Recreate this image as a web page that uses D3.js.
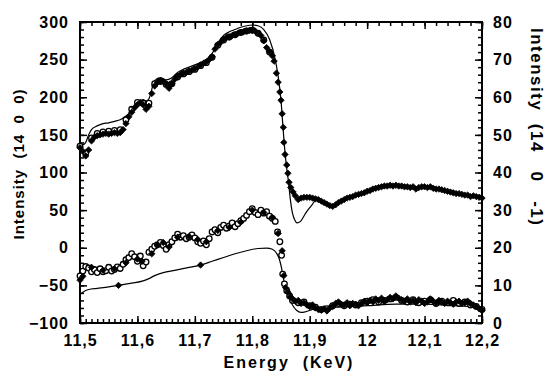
<!DOCTYPE html>
<html>
<head>
<meta charset="utf-8">
<script src="https://cdn.jsdelivr.net/npm/d3@7"></script>
<style>
  html, body { margin: 0; padding: 0; background: #fff; }
  svg { display: block; }
  text { font-family: "Liberation Sans", Arial, sans-serif; font-weight: bold; fill: #000; }
  .tick text { font-size: 16px; letter-spacing: 1px; }
  .tick line { stroke: #000; stroke-width: 1.5; }
</style>
</head>
<body>
<svg id="chart" width="548" height="372"></svg>
<script>
// x ticks (energy, keV) and their printed labels
const xTicks = [11.5, 11.6, 11.7, 11.8, 11.9, 12.0, 12.1, 12.2];
const xTickLabels = ['11,5', '11,6', '11,7', '11,8', '11,9', '12', '12,1', '12,2'];
const leftTicks = [-100, -50, 0, 50, 100, 150, 200, 250, 300];
const rightTicks = [0, 10, 20, 30, 40, 50, 60, 70, 80];

// Intensity (14 0 0), left axis: measured (filled diamonds)
const upperDiamonds = [
  [11.500,133],[11.505,128],[11.510,122],[11.515,130],[11.520,142],[11.525,147],[11.530,149],[11.535,150],
  [11.540,151],[11.545,152],[11.550,151],[11.555,152],[11.560,153],[11.565,152],[11.570,153],[11.575,157],
  [11.580,165],[11.585,174],[11.590,180],[11.595,186],[11.600,190],[11.605,193],[11.610,190],[11.615,184],
  [11.620,188],[11.625,205],[11.630,215],[11.635,220],[11.640,222],[11.645,221],[11.650,218],[11.655,212],
  [11.660,218],[11.665,224],[11.670,228],[11.675,230],[11.680,232],[11.685,233],[11.690,235],[11.695,236],
  [11.700,238],[11.705,240],[11.710,243],[11.715,245],[11.720,247],[11.725,250],[11.730,254],[11.735,264],
  [11.740,270],[11.745,273],[11.750,277],[11.755,279],[11.760,280],[11.765,282],[11.770,283],[11.775,285],
  [11.780,286],[11.785,287],[11.790,288],[11.795,289],[11.800,289],[11.805,288],[11.810,285],[11.815,282],
  [11.820,275],[11.825,266],[11.830,261],[11.835,255],[11.838,248],[11.842,232],[11.845,220],[11.848,207],
  [11.850,196],[11.852,178],[11.854,160],[11.855,140],[11.857,124],[11.860,110],[11.862,99],[11.864,87],
  [11.867,80],[11.871,74],[11.875,69],[11.880,64],[11.885,66],[11.890,67],[11.895,67],[11.900,67],
  [11.905,66],[11.910,65],[11.915,64],[11.920,62],[11.925,60],[11.930,58],[11.935,56],[11.940,55],
  [11.945,57],[11.950,60],[11.955,62],[11.960,64],[11.965,66],[11.970,67],[11.975,68],[11.980,70],
  [11.985,71],[11.990,72],[11.995,73],[12.000,75],[12.005,76],[12.010,78],[12.015,79],[12.020,80],
  [12.025,81],[12.030,82],[12.035,82],[12.040,83],[12.045,82],[12.050,83],[12.055,82],[12.060,82],
  [12.065,81],[12.070,81],[12.075,80],[12.080,81],[12.085,78],[12.090,80],[12.095,81],[12.100,81],
  [12.105,80],[12.110,81],[12.115,79],[12.120,78],[12.125,78],[12.130,77],[12.135,76],[12.140,75],
  [12.145,74],[12.150,73],[12.155,72],[12.160,72],[12.165,71],[12.170,70],[12.175,70],[12.180,68],
  [12.185,69],[12.190,68],[12.195,67],[12.200,66]
];
// Intensity (14 0 0): second measurement (open circles)
const upperCircles = [
  [11.50,135],[11.51,126],[11.52,146],[11.53,152],[11.54,154],[11.55,155],[11.56,156],[11.57,157],
  [11.58,170],[11.59,184],[11.60,193],[11.61,192],[11.62,192],[11.63,218],[11.64,221],[11.65,217],
  [11.66,218],[11.67,227],[11.68,231],[11.69,234],[11.70,237],[11.71,242],[11.72,246],[11.73,253],
  [11.74,269],[11.75,276],[11.76,280],[11.77,283],[11.78,286],[11.79,288],[11.80,289],[11.81,285],
  [11.82,276],[11.83,260]
];
// Intensity (14 0 0): calculated (thin line)
const upperFit = [
  [11.500,138],[11.505,137],[11.510,140],[11.515,150],[11.520,157],[11.530,162],[11.540,165],[11.550,166],
  [11.560,168],[11.570,170],[11.580,175],[11.590,182],[11.600,193],[11.610,197],[11.615,195],[11.620,198],
  [11.630,222],[11.640,226],[11.650,223],[11.660,226],[11.670,233],[11.680,237],[11.690,240],[11.700,243],
  [11.710,246],[11.720,250],[11.730,258],[11.740,272],[11.750,282],[11.760,287],[11.770,290],[11.780,293],
  [11.790,295],[11.800,296],[11.810,295],[11.820,290],[11.830,277],[11.840,250],[11.845,228],[11.850,196],
  [11.853,165],[11.856,135],[11.860,105],[11.863,88],[11.866,66],[11.870,46],[11.874,37],[11.878,33],
  [11.884,35],[11.893,46],[11.903,56],[11.913,65],[11.920,62],[11.930,58],[11.940,56],[11.950,60],
  [11.970,67],[12.000,75],[12.030,81],[12.050,82],[12.080,80],[12.110,80],[12.140,75],[12.170,70],
  [12.200,66]
];

// Intensity (14 0 -1), right axis: open circles
const lowerCircles = [
  [11.500,12.5],[11.505,13.8],[11.510,15.0],[11.515,14.6],[11.520,13.6],[11.525,14.2],[11.530,13.4],
  [11.535,14.4],[11.540,13.6],[11.545,13.9],[11.550,14.8],[11.555,13.8],[11.560,14.2],[11.565,14.9],
  [11.570,14.5],[11.575,15.6],[11.580,16.8],[11.585,17.4],[11.590,18.4],[11.595,17.6],[11.600,16.4],
  [11.605,17.8],[11.610,15.2],[11.615,16.2],[11.620,18.8],[11.625,19.6],[11.630,20.4],[11.635,20.8],
  [11.640,21.4],[11.645,20.6],[11.650,19.6],[11.655,20.8],[11.660,21.6],[11.665,22.6],[11.670,23.6],
  [11.675,22.8],[11.680,23.2],[11.685,22.4],[11.690,22.8],[11.695,23.4],[11.700,22.6],[11.705,21.6],
  [11.710,21.2],[11.715,21.8],[11.720,20.8],[11.725,22.4],[11.730,24.2],[11.735,24.8],[11.740,24.0],
  [11.745,25.4],[11.750,26.0],[11.755,25.2],[11.760,25.8],[11.765,26.6],[11.770,25.6],[11.775,26.4],
  [11.780,27.2],[11.785,27.8],[11.790,28.6],[11.795,29.6],[11.800,30.4],[11.805,29.4],[11.810,28.8],
  [11.815,30.0],[11.820,29.2],[11.825,29.6],[11.830,28.4],[11.835,27.8],[11.840,27.0],[11.844,24.2],
  [11.848,21.6],[11.851,18.0],[11.853,13.0],[11.856,10.4],[11.860,8.6],[11.865,7.2],[11.870,6.0],
  [11.880,5.4],[11.890,5.6],[11.900,4.6],[11.910,4.2],[11.920,3.6],[11.930,3.8],[11.940,4.6],
  [11.950,5.2],[11.960,4.6],[11.970,5.0],[11.980,4.8],[11.990,5.4],[12.000,5.8],[12.010,6.2],
  [12.020,5.6],[12.030,6.0],[12.040,6.4],[12.050,6.8],[12.060,6.0],[12.070,5.6],[12.080,6.2],
  [12.090,5.4],[12.100,5.8],[12.110,6.2],[12.120,5.2],[12.130,5.8],[12.140,5.4],[12.150,6.0],
  [12.160,5.2],[12.170,5.6],[12.180,4.8],[12.190,4.4],[12.200,3.6]
];
// Intensity (14 0 -1): filled diamonds
const lowerDiamonds = [
  [11.500,11.4],[11.505,12.4],[11.520,14.8],[11.540,14.0],[11.560,14.4],[11.580,16.0],[11.600,17.0],
  [11.608,16.4],[11.625,18.4],[11.635,20.8],[11.645,21.4],[11.655,20.2],[11.670,22.8],[11.690,23.0],
  [11.705,22.2],[11.720,21.6],[11.740,24.6],[11.760,25.4],[11.780,26.8],[11.800,30.0],[11.820,29.4],
  [11.835,28.0],[11.845,23.8],[11.852,19.2],[11.855,12.6],[11.858,9.4],[11.862,8.2],[11.866,7.0],
  [11.870,6.4],[11.875,5.8],[11.880,6.0],[11.885,5.2],[11.890,5.4],[11.895,4.8],[11.900,4.4],
  [11.905,4.8],[11.910,4.0],[11.915,3.6],[11.920,3.4],[11.925,3.8],[11.930,3.2],[11.935,4.0],
  [11.940,4.4],[11.945,5.2],[11.950,5.6],[11.955,5.0],[11.960,4.8],[11.965,5.4],[11.970,4.6],
  [11.975,5.2],[11.980,5.0],[11.985,4.6],[11.990,5.2],[11.995,5.8],[12.000,5.4],[12.005,6.0],
  [12.010,5.6],[12.015,6.4],[12.020,6.0],[12.025,6.6],[12.030,5.8],[12.035,6.2],[12.040,6.8],
  [12.045,6.4],[12.050,7.2],[12.055,6.6],[12.060,6.2],[12.065,5.8],[12.070,6.4],[12.075,5.6],
  [12.080,6.0],[12.085,5.4],[12.090,6.2],[12.095,5.8],[12.100,5.2],[12.105,5.6],[12.110,6.4],
  [12.115,5.8],[12.120,5.4],[12.125,6.0],[12.130,5.6],[12.135,5.2],[12.140,5.8],[12.145,5.4],
  [12.150,5.0],[12.155,5.6],[12.160,5.8],[12.165,5.2],[12.170,5.4],[12.175,5.8],[12.180,5.2],
  [12.185,4.8],[12.190,4.4],[12.195,3.8],[12.200,3.4]
];
// Intensity (14 0 -1): calculated (thin line) and the markers sitting on it
const lowerFit = [
  [11.500,7.6],[11.505,8.2],[11.515,8.9],[11.530,9.2],[11.550,9.6],[11.567,10.0],[11.590,10.6],
  [11.610,11.2],[11.620,11.8],[11.630,12.6],[11.645,13.4],[11.665,14.0],[11.690,14.8],[11.710,15.4],
  [11.730,16.4],[11.750,17.4],[11.770,18.4],[11.790,19.2],[11.810,19.8],[11.825,19.9],[11.835,19.6],
  [11.842,18.6],[11.847,17.0],[11.851,14.6],[11.854,12.0],[11.858,9.4],[11.863,7.0],[11.870,4.8],
  [11.877,3.4],[11.885,2.8],[11.893,3.0],[11.905,3.6],[11.920,4.0],[11.950,4.2],[12.000,4.6],
  [12.050,5.0],[12.100,5.0],[12.150,4.6],[12.200,4.2]
];
const lowerFitMarkers = [[11.567,10.0],[11.710,15.4]];

const svg = d3.select('#chart');
const plot = { left: 80, right: 482, top: 22, bottom: 323 };

const x = d3.scaleLinear().domain([11.5, 12.2]).range([plot.left, plot.right]);
const yLeft = d3.scaleLinear().domain([-100, 300]).range([plot.bottom, plot.top]);
const yRight = d3.scaleLinear().domain([0, 80]).range([plot.bottom, plot.top]);

// axes: major ticks with labels, minor ticks without, all pointing inward
function addAxis(axis, tx, ty) {
  const g = svg.append('g').attr('transform', `translate(${tx},${ty})`).call(axis);
  g.select('.domain').remove();
  return g;
}
addAxis(d3.axisBottom(x).tickValues(d3.range(11.5, 12.2001, 0.01)).tickSize(-4).tickFormat(''), 0, plot.bottom);
addAxis(d3.axisBottom(x).tickValues(xTicks).tickSize(-7).tickPadding(12)
  .tickFormat((d, i) => xTickLabels[i]), 0, plot.bottom);
addAxis(d3.axisTop(x).tickValues(d3.range(11.5, 12.2001, 0.02)).tickSize(-4).tickFormat(''), 0, plot.top);
addAxis(d3.axisTop(x).tickValues(xTicks).tickSize(-7).tickFormat(''), 0, plot.top);
addAxis(d3.axisLeft(yLeft).tickValues(d3.range(-100, 301, 10)).tickSize(-4).tickFormat(''), plot.left, 0);
addAxis(d3.axisLeft(yLeft).tickValues(leftTicks).tickSize(-7).tickPadding(11), plot.left, 0);
addAxis(d3.axisRight(yRight).tickValues(d3.range(0, 81, 2)).tickSize(-4).tickFormat(''), plot.right, 0);
addAxis(d3.axisRight(yRight).tickValues(rightTicks).tickSize(-7).tickPadding(11), plot.right, 0);

svg.append('rect')
  .attr('x', plot.left).attr('y', plot.top)
  .attr('width', plot.right - plot.left).attr('height', plot.bottom - plot.top)
  .attr('fill', 'none').attr('stroke', '#000').attr('stroke-width', 2);

// series
const lineLeft = d3.line().x(d => x(d[0])).y(d => yLeft(d[1])).curve(d3.curveMonotoneX);
const lineRight = d3.line().x(d => x(d[0])).y(d => yRight(d[1])).curve(d3.curveMonotoneX);
const diamond = d3.symbol(d3.symbolDiamond2 || d3.symbolDiamond, 26);

function drawCircles(data, y) {
  svg.append('g').selectAll('circle').data(data).enter().append('circle')
    .attr('cx', d => x(d[0])).attr('cy', d => y(d[1])).attr('r', 2.8)
    .attr('fill', '#fff').attr('stroke', '#000').attr('stroke-width', 1.3);
}
function drawDiamonds(data, y) {
  svg.append('g').selectAll('path').data(data).enter().append('path')
    .attr('d', diamond).attr('transform', d => `translate(${x(d[0])},${y(d[1])})`)
    .attr('fill', '#000').attr('stroke', '#000').attr('stroke-width', 0.8);
}

svg.append('path').datum(upperFit).attr('d', lineLeft)
  .attr('fill', 'none').attr('stroke', '#000').attr('stroke-width', 1.2);
drawCircles(upperCircles, yLeft);
drawDiamonds(upperDiamonds, yLeft);

svg.append('path').datum(lowerFit).attr('d', lineRight)
  .attr('fill', 'none').attr('stroke', '#000').attr('stroke-width', 1.2);
drawDiamonds(lowerFitMarkers, yRight);
drawCircles(lowerCircles, yRight);
drawDiamonds(lowerDiamonds, yRight);

// axis titles
svg.append('text')
  .attr('transform', 'translate(24,164) rotate(-90)')
  .attr('text-anchor', 'middle').style('font-size', '15px').style('letter-spacing', '1px')
  .style('white-space', 'pre')
  .text('Intensity  (14  0  0)');
svg.append('text')
  .attr('transform', 'translate(531,28) rotate(90)')
  .attr('text-anchor', 'start').style('font-size', '17px').style('letter-spacing', '1.5px')
  .style('white-space', 'pre')
  .text('Intensity  (14   0   -1)');
svg.append('text')
  .attr('x', 289).attr('y', 368)
  .attr('text-anchor', 'middle').style('font-size', '16px').style('letter-spacing', '2px')
  .style('white-space', 'pre')
  .text('Energy  (KeV)');
</script>
</body>
</html>
